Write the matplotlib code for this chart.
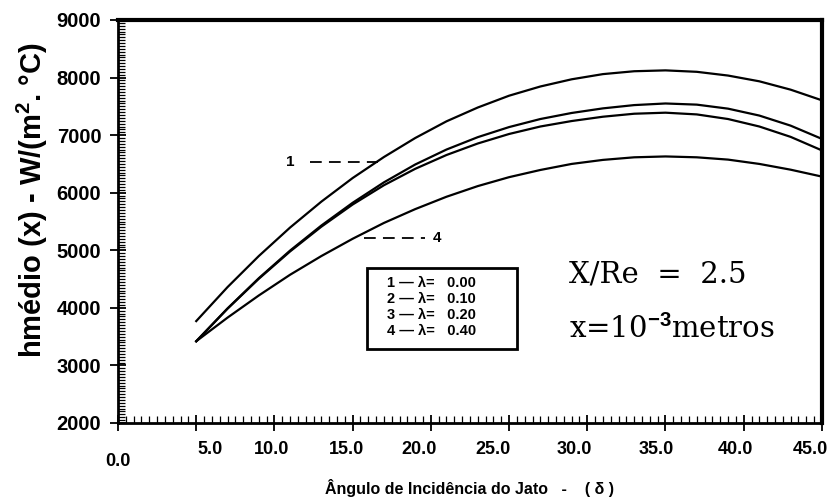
import matplotlib
matplotlib.use("Agg")
import matplotlib.pyplot as plt
import matplotlib.transforms as mtransforms
from matplotlib.ticker import MultipleLocator, FormatStrFormatter
from matplotlib.patches import Rectangle

plt.rcParams['font.family'] = ['Liberation Sans', 'DejaVu Sans']
plt.rcParams['mathtext.fontset'] = 'custom'
plt.rcParams['mathtext.rm'] = 'DejaVu Serif'
plt.rcParams['mathtext.bf'] = 'Liberation Sans:bold'

# angulo de incidencia (graus)
angulo = [5, 7, 9, 11, 13, 15, 17, 19, 21, 23, 25, 27, 29, 31, 33, 35, 37, 39, 41, 43, 45]

# h medio para cada lambda
h_lam000 = [3770, 4360, 4900, 5395, 5845, 6255, 6620, 6950, 7240, 7480, 7685,
            7845, 7970, 8060, 8110, 8125, 8100, 8035, 7935, 7790, 7605]
h_lam010 = [3420, 3990, 4515, 4995, 5430, 5825, 6180, 6490, 6750, 6965, 7140,
            7280, 7385, 7465, 7522, 7550, 7530, 7460, 7340, 7165, 6935]
h_lam020 = [3420, 3985, 4505, 4980, 5410, 5795, 6130, 6415, 6655, 6855, 7020,
            7150, 7245, 7320, 7372, 7390, 7360, 7280, 7150, 6970, 6735]
h_lam040 = [3420, 3830, 4215, 4575, 4900, 5200, 5475, 5715, 5930, 6115, 6270,
            6395, 6500, 6570, 6615, 6630, 6615, 6575, 6500, 6400, 6280]

xticks = [0, 5, 10, 15, 20, 25, 30, 35, 40, 45]
legenda = ["1 \u2014 \u03bb=   0.00", "2 \u2014 \u03bb=   0.10",
           "3 \u2014 \u03bb=   0.20", "4 \u2014 \u03bb=   0.40"]

fig = plt.figure(figsize=(8.34, 5.0), dpi=100)
ax = fig.add_axes([0.1415, 0.154, 0.844, 0.806])

for h in [h_lam000, h_lam010, h_lam020, h_lam040]:
    ax.plot(angulo, h, color='black', lw=1.6)

ax.set_xlim(0, 45)
ax.set_ylim(2000, 9000)
ax.set_xticks(xticks)
ax.xaxis.set_minor_locator(MultipleLocator(0.5))
ax.yaxis.set_major_locator(MultipleLocator(1000))
ax.yaxis.set_minor_locator(MultipleLocator(50))
ax.xaxis.set_major_formatter(FormatStrFormatter('%.1f'))
ax.tick_params(which='major', direction='inout', length=12, width=1.3)
ax.tick_params(axis='x', which='major', labelsize=13, pad=7)
ax.tick_params(axis='y', which='major', labelsize=14.5, pad=6)
ax.tick_params(which='minor', direction='in', length=5, width=0.9)
for lab in ax.get_xticklabels() + ax.get_yticklabels():
    lab.set_fontweight('bold')

# deslocamento dos rotulos do eixo x como no original (pixels)
desloc_x = [0, 14, -3, -6, -12, -16, -13, -9, -8, -12]
desloc_y = [-12, 0, 0, 0, 0, 0, 0, 0, 0, 0]
for lab, dx, dy in zip(ax.get_xticklabels(), desloc_x, desloc_y):
    off = mtransforms.ScaledTranslation(dx / 100, dy / 100, fig.dpi_scale_trans)
    lab.set_transform(lab.get_transform() + off)

ax.spines['left'].set_linewidth(2)
ax.spines['bottom'].set_linewidth(2)
ax.spines['top'].set_linewidth(3)
ax.spines['right'].set_linewidth(3)

ax.set_ylabel(r'hmédio (x) - W/(m$^{\mathbf{2}}$. °C)', fontsize=21,
              fontweight='bold')
ax.yaxis.set_label_coords(-0.097, 0.553)
ax.set_xlabel('Ângulo de Incidência do Jato   -    ( \u03b4 )', fontsize=11.5,
              fontweight='bold')
ax.xaxis.set_label_coords(0.5, -0.14)

# indicacoes das curvas 1 e 4
ax.plot([12.3, 16.6], [6526, 6526], color='black', lw=1.3, ls=(0, (6.5, 4)))
ax.text(11.0, 6526, '1', fontsize=11, fontweight='bold', ha='center', va='center')
ax.plot([15.7, 19.6], [5220, 5220], color='black', lw=1.3, ls=(0, (6.5, 4)))
ax.text(20.4, 5220, '4', fontsize=11, fontweight='bold', ha='center', va='center')

# caixa da legenda
ax.add_patch(Rectangle((15.9, 3286), 9.6, 1411, fill=False, lw=2, ec='black'))
for i, s in enumerate(legenda):
    ax.text(17.2, 4440 - i * 280, s, fontsize=10.5, fontweight='bold',
            ha='left', va='center')

ax.text(28.8, 4436, 'X/Re  =  2.5', fontsize=21, family='DejaVu Serif',
        ha='left', va='baseline')
ax.text(28.8, 3477, r'x=10$^{\mathbf{-3}}$metros', fontsize=21,
        family='DejaVu Serif', ha='left', va='baseline')

fig.savefig('out.png', dpi=100)
